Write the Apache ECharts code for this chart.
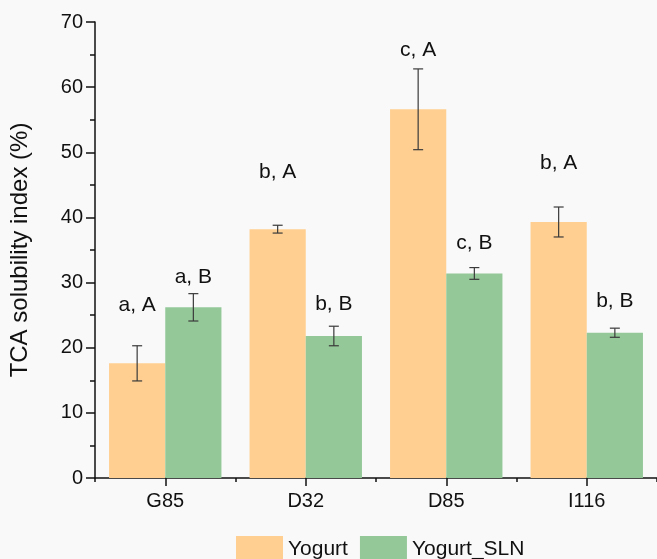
<!DOCTYPE html>
<html>
<head>
<meta charset="utf-8">
<style>
  html, body { margin: 0; padding: 0; background: #f9f9f9; }
  #chart { width: 657px; height: 559px; }
</style>
<script src="https://cdn.jsdelivr.net/npm/echarts@6/dist/echarts.min.js"></script>
</head>
<body>
<div id="chart"></div>
<script>
// Samples and measured solubility (mean ± SD)
const categories = ['G85', 'D32', 'D85', 'I116'];
const seriesNames = ['Yogurt', 'Yogurt_SLN'];
const yogurtMean = [17.6, 38.2, 56.6, 39.3];
const yogurtSD = [2.7, 0.6, 6.2, 2.3];
const slnMean = [26.2, 21.8, 31.4, 22.3];
const slnSD = [2.1, 1.5, 0.9, 0.7];
// Significance letters and the height (in %) where each is written
const yogurtLetters = ['a, A', 'b, A', 'c, A', 'b, A'];
const yogurtLetterY = [26.6, 47.0, 65.6, 48.3];
const slnLetters = ['a, B', 'b, B', 'c, B', 'b, B'];
const slnLetterY = [30.8, 26.7, 36.0, 27.1];

const colors = ['#ffcf91', '#94c898'];
const font = 'Arial, "Liberation Sans", sans-serif';

// side: -1 for the left bar of a group, +1 for the right one
function barCenter(api, cat, val, side) {
  const p = api.coord([cat, val]);
  const band = api.size([1, 0])[0];
  const barW = band * 0.4;
  return [p[0] + side * barW / 2, p[1]];
}

function errorSeries(means, sds, side) {
  return {
    type: 'custom',
    xAxisIndex: 0,
    yAxisIndex: 0,
    silent: true,
    z: 5,
    data: means.map((m, i) => [i, m, sds[i]]),
    encode: { x: 0, y: 1 },
    renderItem: function (params, api) {
      const cat = api.value(0), m = api.value(1), sd = api.value(2);
      const hi = barCenter(api, cat, m + sd, side);
      const lo = barCenter(api, cat, m - sd, side);
      const cap = 5;
      const style = { stroke: '#3a3a3a', lineWidth: 1.2 };
      return {
        type: 'group',
        children: [
          { type: 'line', shape: { x1: hi[0], y1: hi[1], x2: lo[0], y2: lo[1] }, style: style },
          { type: 'line', shape: { x1: hi[0] - cap, y1: hi[1], x2: hi[0] + cap, y2: hi[1] }, style: style },
          { type: 'line', shape: { x1: lo[0] - cap, y1: lo[1], x2: lo[0] + cap, y2: lo[1] }, style: style }
        ]
      };
    }
  };
}

function letterSeries(letters, ys, side) {
  return {
    type: 'custom',
    xAxisIndex: 0,
    yAxisIndex: 0,
    silent: true,
    z: 6,
    data: letters.map((t, i) => [i, ys[i], t]),
    encode: { x: 0, y: 1 },
    renderItem: function (params, api) {
      const cat = api.value(0), y = api.value(1);
      const p = barCenter(api, cat, y, side);
      return {
        type: 'text',
        x: p[0],
        y: p[1],
        style: {
          text: letters[params.dataIndex],
          fill: '#111',
          font: '21px ' + font,
          align: 'center',
          verticalAlign: 'middle'
        }
      };
    }
  };
}

const chart = echarts.init(document.getElementById('chart'));
chart.setOption({
  backgroundColor: '#f9f9f9',
  animation: false,
  color: colors,
  grid: { left: 93, right: 0, top: 22, bottom: 81, containLabel: false },
  legend: {
    data: seriesNames,
    left: 236,
    top: 536,
    padding: 0,
    itemWidth: 47,
    itemHeight: 26,
    itemGap: 12,
    icon: 'rect',
    textStyle: { fontSize: 21, fontFamily: font, color: '#111' }
  },
  xAxis: [
    {
      type: 'category',
      data: categories,
      axisLine: { show: true, lineStyle: { color: '#111', width: 1.5 } },
      axisTick: { show: true, alignWithLabel: true, length: 8, lineStyle: { color: '#111', width: 1.5 } },
      axisLabel: { fontSize: 20, fontFamily: font, color: '#111', margin: 13 },
      splitLine: { show: false }
    },
    {
      // short ticks at the group boundaries
      type: 'category',
      data: categories,
      position: 'bottom',
      axisLine: { show: false },
      axisTick: { show: true, length: 4, lineStyle: { color: '#111', width: 1.5 } },
      axisLabel: { show: false },
      splitLine: { show: false }
    }
  ],
  yAxis: {
    type: 'value',
    min: 0,
    max: 70,
    interval: 10,
    name: 'TCA solubility index (%)',
    nameLocation: 'middle',
    nameGap: 63,
    nameTextStyle: { fontSize: 24, fontFamily: font, color: '#111' },
    axisLine: { show: true, lineStyle: { color: '#111', width: 1.5 } },
    axisTick: { show: true, length: 9, lineStyle: { color: '#111', width: 1.5 } },
    minorTick: { show: true, splitNumber: 2, length: 5, lineStyle: { color: '#111', width: 1.5 } },
    axisLabel: { fontSize: 20, fontFamily: font, color: '#111', margin: 12 },
    splitLine: { show: false }
  },
  series: [
    {
      name: seriesNames[0],
      type: 'bar',
      data: yogurtMean,
      barGap: '0%',
      barCategoryGap: '20%',
      itemStyle: { color: colors[0] }
    },
    {
      name: seriesNames[1],
      type: 'bar',
      data: slnMean,
      barGap: '0%',
      barCategoryGap: '20%',
      itemStyle: { color: colors[1] }
    },
    errorSeries(yogurtMean, yogurtSD, -1),
    errorSeries(slnMean, slnSD, 1),
    letterSeries(yogurtLetters, yogurtLetterY, -1),
    letterSeries(slnLetters, slnLetterY, 1)
  ]
});
</script>
</body>
</html>
